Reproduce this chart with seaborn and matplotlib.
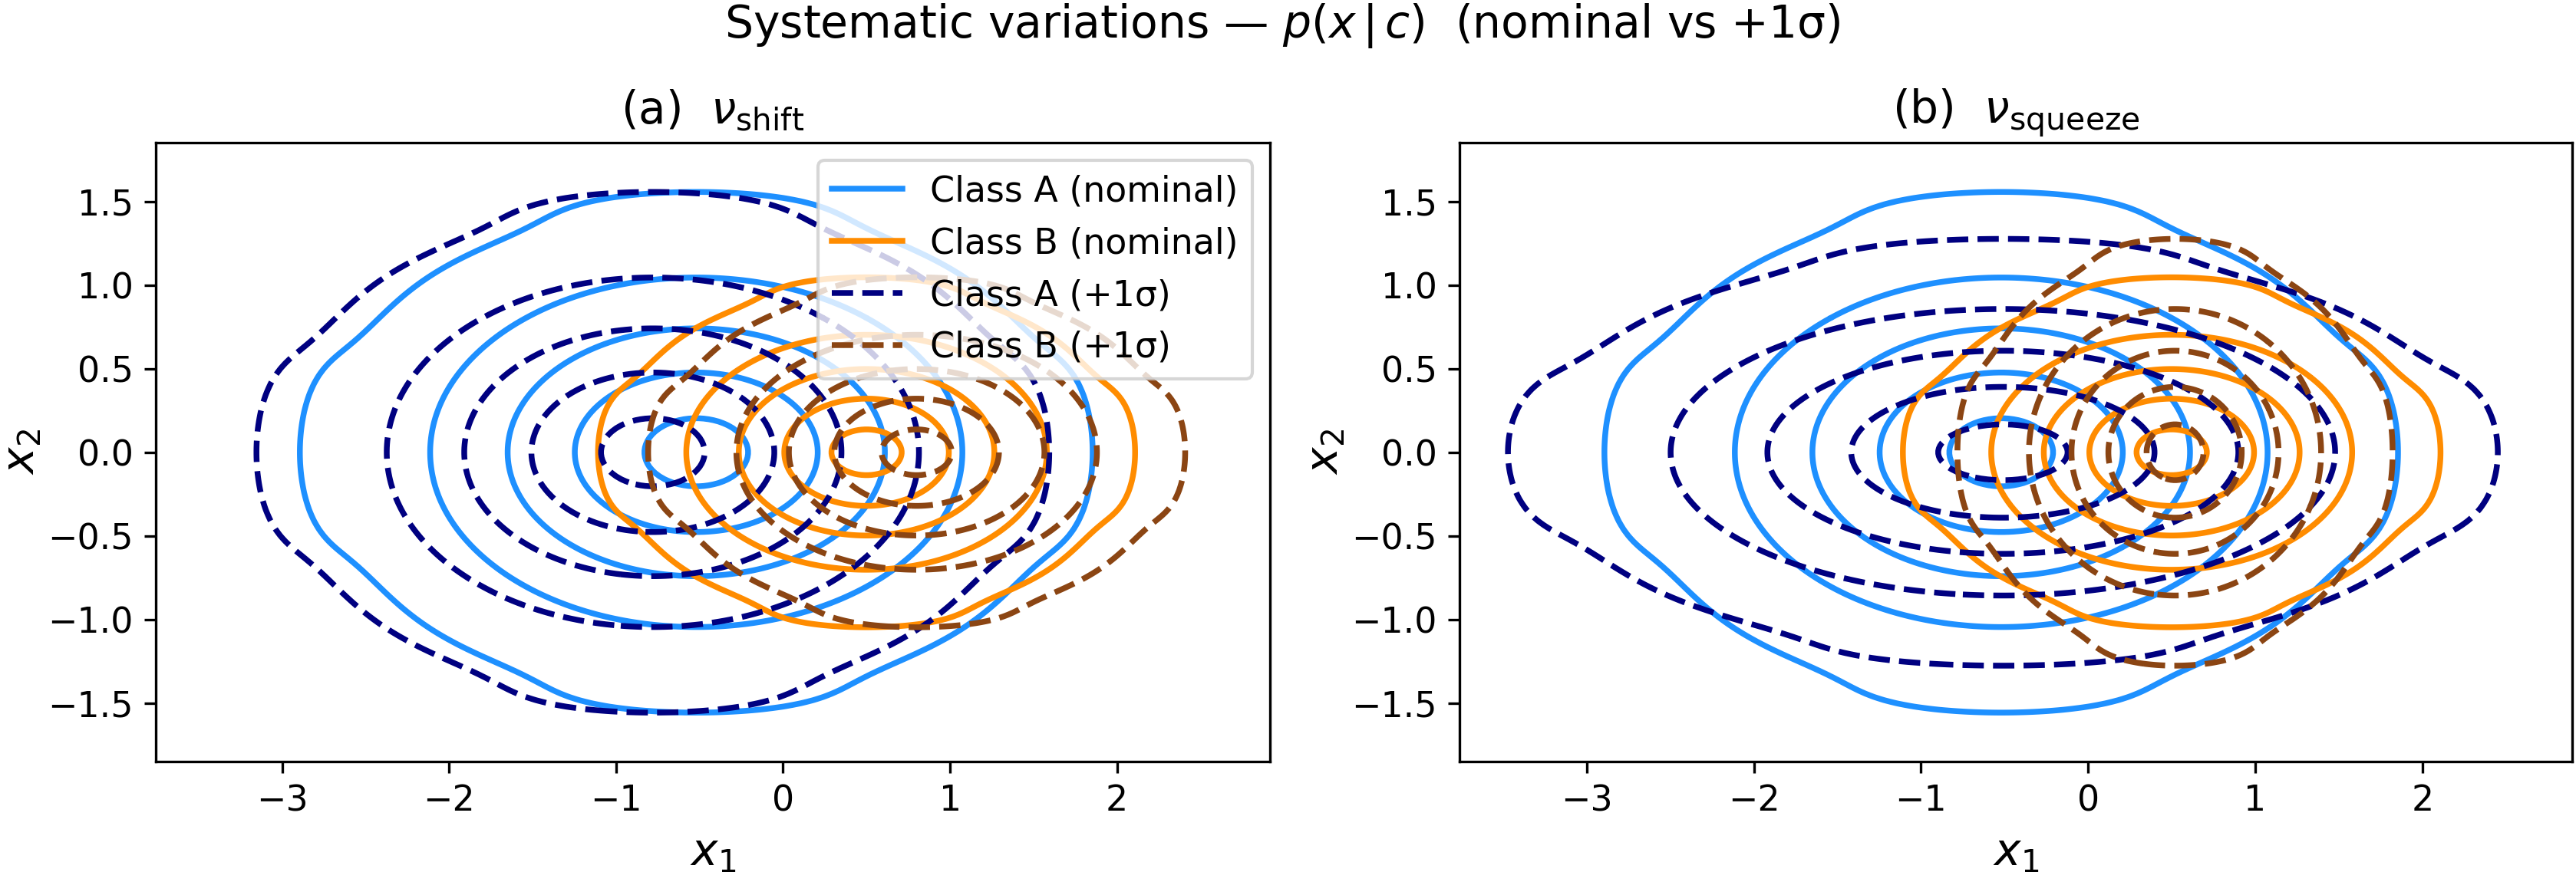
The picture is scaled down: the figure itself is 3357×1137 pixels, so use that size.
import numpy as np
import pandas as pd
import matplotlib
matplotlib.use("Agg")
import matplotlib.pyplot as plt
import seaborn as sns
from matplotlib.lines import Line2D
from statistics import NormalDist

# ---------------- data ----------------
suptitle_text = r"Systematic variations — $p(x\,|\,c)$  (nominal vs +1σ)"
panel_titles = [r"(a)  $\nu_{\mathrm{shift}}$", r"(b)  $\nu_{\mathrm{squeeze}}$"]
series_labels = ["Class A (nominal)", "Class B (nominal)", "Class A (+1σ)", "Class B (+1σ)"]
series_colors = ["#1E90FF", "#FF8C00", "#000080", "#8B4513"]
series_styles = ["-", "-", "--", "--"]
contour_levels = [0.05, 0.25, 0.5, 0.75, 0.95]

# class centres (x1, x2) and spreads (x1, x2), estimated from the contours
mean_A_nominal = [-0.52, 0.0]
std_A_nominal = [0.93, 0.61]
mean_B_nominal = [0.50, 0.0]
std_B_nominal = [0.63, 0.41]

mean_A_shift = [-0.78, 0.0]
std_A_shift = [0.93, 0.61]
mean_B_shift = [0.80, 0.0]
std_B_shift = [0.63, 0.41]

mean_A_squeeze = [-0.51, 0.0]
std_A_squeeze = [1.16, 0.50]
mean_B_squeeze = [0.52, 0.0]
std_B_squeeze = [0.51, 0.50]

x_limits = [(-3.757, 2.916), (-3.761, 2.896)]
y_limits = (-1.85, 1.852)

# deterministic quantile sample of each class (no random numbers)
N_Q = 64
quant = np.array([NormalDist().inv_cdf((i + 0.5) / N_Q) for i in range(N_Q)])
QX, QY = np.meshgrid(quant, quant)


def class_sample(mean, std):
    return pd.DataFrame({"x1": mean[0] + std[0] * QX.ravel(),
                         "x2": mean[1] + std[1] * QY.ravel()})


panels = [
    [(mean_A_nominal, std_A_nominal), (mean_B_nominal, std_B_nominal),
     (mean_A_shift, std_A_shift), (mean_B_shift, std_B_shift)],
    [(mean_A_nominal, std_A_nominal), (mean_B_nominal, std_B_nominal),
     (mean_A_squeeze, std_A_squeeze), (mean_B_squeeze, std_B_squeeze)],
]

# ---------------- figure ----------------
W, H, DPI = 3357, 1137, 300
fig = plt.figure(figsize=(W / DPI, H / DPI), dpi=DPI)
ax_rects = [
    [203 / W, 1 - 993 / H, 1452 / W, 807 / H],
    [1902 / W, 1 - 993 / H, 1450 / W, 807 / H],
]

LW = 1.8
titles = []
for p, (rect, series) in enumerate(zip(ax_rects, panels)):
    ax = fig.add_axes(rect)
    for (mean, std), col, ls in zip(series, series_colors, series_styles):
        df = class_sample(mean, std)
        sns.kdeplot(data=df, x="x1", y="x2", levels=contour_levels,
                    color=col, linestyles=ls, linewidths=LW, ax=ax)
    ax.set_xlim(*x_limits[p])
    ax.set_ylim(*y_limits)
    ax.set_xticks([-3, -2, -1, 0, 1, 2])
    ax.set_yticks([-1.5, -1.0, -0.5, 0.0, 0.5, 1.0, 1.5])
    ax.tick_params(labelsize=11)
    ax.set_xlabel(r"$x_1$", fontsize=14)
    ax.set_ylabel(r"$x_2$", fontsize=14, labelpad=1.5)
    titles.append(ax.set_title(panel_titles[p], fontsize=13.5))
    if p == 0:
        handles = [Line2D([], [], color=c, ls=s, lw=LW)
                   for c, s in zip(series_colors, series_styles)]
        ax.legend(handles, series_labels, loc="upper right", fontsize=11)

sup = fig.suptitle(suptitle_text, fontsize=13, x=1671 / W, y=0.998, va="top")

# match the text widths measured on the reference (pixels)
fig.canvas.draw()
renderer = fig.canvas.get_renderer()
for txt, target in [(sup, 1454), (titles[0], 239), (titles[1], 323)]:
    w = txt.get_window_extent(renderer).width
    txt.set_fontsize(txt.get_fontsize() * target / w)

fig.savefig("out.png", dpi=DPI)
